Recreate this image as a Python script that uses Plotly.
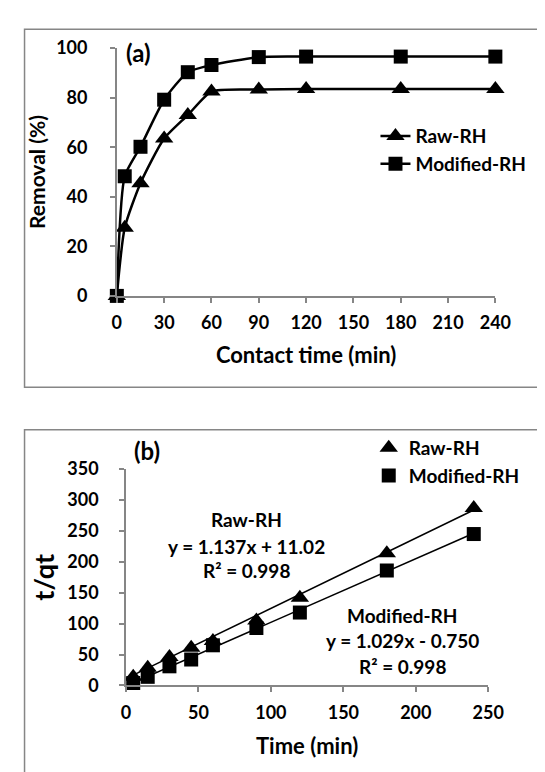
import plotly.graph_objects as go

# ---------- data ----------
time_a = [0, 5, 15, 30, 45, 60, 90, 120, 180, 240]
raw_removal = [0, 27.5, 45.5, 63.5, 73, 82.5, 83.3, 83.5, 83.5, 83.5]
mod_removal = [0, 48.3, 60.2, 79.2, 90.3, 93.2, 96.4, 96.6, 96.6, 96.6]

time_b = [5, 15, 30, 45, 60, 90, 120, 180, 240]
raw_tqt = [14, 28.5, 46, 61, 72, 105, 142, 214, 287]
mod_tqt = [4, 14, 31, 42, 65, 93, 118, 186, 245]

raw_slope, raw_intercept = 1.137, 11.02
mod_slope, mod_intercept = 1.029, -0.750
trend_x = [0, 240]

xticks_a = [0, 30, 60, 90, 120, 150, 180, 210, 240]
yticks_a = [0, 20, 40, 60, 80, 100]
xticks_b = [0, 50, 100, 150, 200, 250]
yticks_b = [0, 50, 100, 150, 200, 250, 300, 350]

FONT = "Lato"
W, H = 545, 772
AX = "#868686"

fig = go.Figure()

# panel (a)
fig.add_trace(go.Scatter(
    x=time_a, y=raw_removal, name="Raw-RH", mode="lines+markers",
    line=dict(color="black", width=2.5, shape="spline", smoothing=0.6),
    marker=dict(symbol="triangle-up", size=16, color="black"),
    xaxis="x", yaxis="y", legend="legend", cliponaxis=False))
fig.add_trace(go.Scatter(
    x=time_a, y=mod_removal, name="Modified-RH", mode="lines+markers",
    line=dict(color="black", width=2.5, shape="spline", smoothing=0.6),
    marker=dict(symbol="square", size=14, color="black"),
    xaxis="x", yaxis="y", legend="legend", cliponaxis=False))

# panel (b)
fig.add_trace(go.Scatter(
    x=trend_x, y=[raw_slope * v + raw_intercept for v in trend_x],
    mode="lines", line=dict(color="black", width=1.5), showlegend=False,
    xaxis="x2", yaxis="y2", hoverinfo="skip"))
fig.add_trace(go.Scatter(
    x=trend_x, y=[mod_slope * v + mod_intercept for v in trend_x],
    mode="lines", line=dict(color="black", width=1.5), showlegend=False,
    xaxis="x2", yaxis="y2", hoverinfo="skip"))
fig.add_trace(go.Scatter(
    x=time_b, y=raw_tqt, name="Raw-RH", mode="markers",
    marker=dict(symbol="triangle-up", size=16, color="black"),
    xaxis="x2", yaxis="y2", legend="legend2", cliponaxis=False))
fig.add_trace(go.Scatter(
    x=time_b, y=mod_tqt, name="Modified-RH", mode="markers",
    marker=dict(symbol="square", size=14, color="black"),
    xaxis="x2", yaxis="y2", legend="legend2", cliponaxis=False))


def px_x(p):
    return p / W


def px_y(p):
    return 1 - p / H


def bfont(size):
    return dict(family=FONT, size=size, color="black", weight="bold")


axis_common = dict(showline=True, linecolor=AX, linewidth=1.5, ticks="outside",
                   tickcolor=AX, ticklen=5, tickwidth=1.5, showgrid=False,
                   zeroline=False, tickfont=bfont(18))


def ann(text, x, y, size=19, xanchor="center"):
    return dict(text=text, x=px_x(x), y=px_y(y), xref="paper", yref="paper",
                xanchor=xanchor, yanchor="middle", showarrow=False, font=bfont(size))


fig.update_layout(
    width=W, height=H, margin=dict(l=0, r=0, t=0, b=0),
    paper_bgcolor="white", plot_bgcolor="white",
    font=dict(family=FONT, color="black"),
    xaxis=dict(domain=[px_x(108), px_x(501.7)], range=[0, 240], tickvals=xticks_a,
               anchor="y", title=dict(text="Contact time (min)", standoff=15, font=bfont(22)),
               ticklabelstandoff=5, **axis_common),
    yaxis=dict(domain=[px_y(284), px_y(29)], range=[0, 100], tickvals=yticks_a,
               anchor="x", title=dict(text="Removal (%)", standoff=5, font=bfont(21)),
               ticklabelstandoff=19, **axis_common),
    xaxis2=dict(domain=[px_x(117.5), px_x(494.3)], range=[0, 250], tickvals=xticks_b,
                anchor="y2", title=dict(text="Time (min)", standoff=17, font=bfont(22)),
                ticklabelstandoff=5, **axis_common),
    yaxis2=dict(domain=[px_y(685), px_y(462.3)], range=[0, 350], tickvals=yticks_b,
                anchor="x2", title=dict(text="t/qt", standoff=5, font=bfont(27)),
                ticklabelstandoff=17, **axis_common),
    legend=dict(x=px_x(377), y=px_y(100), xanchor="left", yanchor="top",
                bgcolor="rgba(0,0,0,0)", font=bfont(19), tracegroupgap=0),
    legend2=dict(x=px_x(370), y=px_y(421), xanchor="left", yanchor="top",
                 bgcolor="rgba(0,0,0,0)", font=bfont(19), itemwidth=30),
    shapes=[
        dict(type="rect", xref="paper", yref="paper", x0=px_x(12), x1=1.02,
             y0=px_y(378), y1=px_y(9.5), line=dict(color=AX, width=1.5)),
        dict(type="rect", xref="paper", yref="paper", x0=px_x(12), x1=1.02,
             y0=-0.02, y1=px_y(421.7), line=dict(color=AX, width=1.5)),
    ],
    annotations=[
        ann("(a)", 115, 33, size=24, xanchor="left"),
        ann("(b)", 124, 443, size=24, xanchor="left"),
        ann("Raw-RH", 243, 514),
        ann("y = 1.137x + 11.02", 243, 541.5),
        ann("R² = 0.998", 243, 567),
        ann("Modified-RH", 405, 613),
        ann("y = 1.029x - 0.750", 405, 639),
        ann("R² = 0.998", 405, 665),
    ],
)

fig.write_html("out.html")
